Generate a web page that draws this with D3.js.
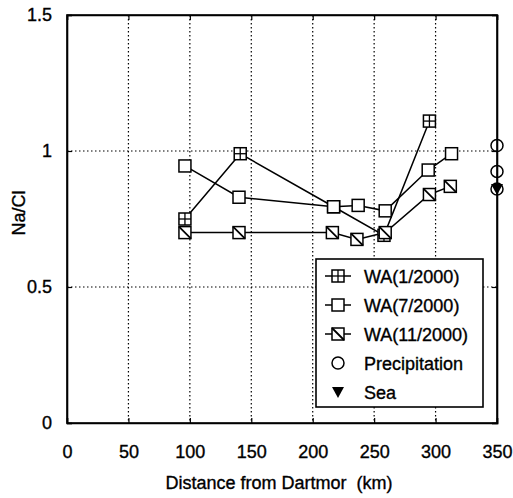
<!DOCTYPE html>
<html>
<head>
<meta charset="utf-8">
<script src="https://cdn.jsdelivr.net/npm/d3@7"></script>
<style>
  body { margin: 0; background: #fff; }
  text { font-family: "Liberation Sans", Arial, sans-serif; fill: #000; stroke: #000; stroke-width: 0.35px; }
</style>
</head>
<body>
<div id="frame"></div>
<script>
'use strict'

// distances (km) and Na/Cl ratios
var distJan = [96, 141, 217, 258, 295]
var ratioJan = [0.75, 0.99, 0.795, 0.69, 1.11]

var distJul = [96, 140, 217, 237, 259, 294, 313]
var ratioJul = [0.945, 0.83, 0.795, 0.80, 0.78, 0.93, 0.99]

var distNov = [96, 140, 216, 236, 259, 295, 312]
var ratioNov = [0.70, 0.70, 0.70, 0.675, 0.70, 0.84, 0.87]

var precipDist = [350, 350, 350]
var precipRatio = [1.02, 0.925, 0.86]

var seaDist = [350]
var seaRatio = [0.86]

var xTicks = [0, 50, 100, 150, 200, 250, 300, 350]
var yTicks = [0, 0.5, 1, 1.5]

var legendLabels = ["WA(1/2000)", "WA(7/2000)", "WA(11/2000)", "Precipitation", "Sea"]

var W = 513, H = 498
var m = { left: 67, right: 497, top: 15, bottom: 423 }
var fs = "18px"

var svg = d3.select("#frame").append("svg")
  .attr("width", W).attr("height", H)

var x = d3.scaleLinear().domain([0, 350]).range([m.left, m.right])
var y = d3.scaleLinear().domain([0, 1.5]).range([m.bottom, m.top])

// grid
var grid = svg.append("g").attr("class", "grid")
grid.selectAll("line.vx")
  .data(xTicks.slice(1, -1))
  .enter().append("line")
  .attr("x1", d => x(d)).attr("x2", d => x(d))
  .attr("y1", m.top).attr("y2", m.bottom)
  .attr("stroke", "#000").attr("stroke-width", 1.2)
  .attr("stroke-dasharray", "1.5,2.5")
grid.selectAll("line.hy")
  .data(yTicks.slice(1, -1))
  .enter().append("line")
  .attr("x1", m.left).attr("x2", m.right)
  .attr("y1", d => y(d)).attr("y2", d => y(d))
  .attr("stroke", "#000").attr("stroke-width", 1.2)
  .attr("stroke-dasharray", "1.5,2.5")

// axes, ticks inward
var tickLen = 5
svg.append("g").attr("transform", "translate(0," + m.bottom + ")")
  .call(d3.axisBottom(x).tickValues(xTicks).tickSize(-tickLen).tickPadding(22))
svg.append("g").attr("transform", "translate(0," + m.top + ")")
  .call(d3.axisTop(x).tickValues(xTicks).tickSize(-tickLen).tickFormat(""))
svg.append("g").attr("transform", "translate(" + m.left + ",0)")
  .call(d3.axisLeft(y).tickValues(yTicks).tickSize(-tickLen).tickPadding(15).tickFormat(d3.format("")))
svg.append("g").attr("transform", "translate(" + m.right + ",0)")
  .call(d3.axisRight(y).tickValues(yTicks).tickSize(-tickLen).tickFormat(""))

svg.selectAll(".domain").attr("stroke", "#000").attr("stroke-width", 1.6)
svg.selectAll(".tick line").attr("stroke", "#000").attr("stroke-width", 1.2)
svg.selectAll(".tick text")
  .style("font-size", fs)
  .style("font-family", "'Liberation Sans', Arial, sans-serif")
  .attr("fill", "#000")

svg.append("rect")
  .attr("x", m.left).attr("y", m.top)
  .attr("width", m.right - m.left).attr("height", m.bottom - m.top)
  .attr("fill", "none").attr("stroke", "#000").attr("stroke-width", 1.6)

// axis titles
svg.append("text")
  .attr("x", 279).attr("y", 489)
  .attr("text-anchor", "middle")
  .style("font-size", fs)
  .style("white-space", "pre")
  .text("Distance from Dartmor  (km)")
svg.append("text")
  .attr("transform", "translate(25,213) rotate(-90)")
  .attr("text-anchor", "middle")
  .style("font-size", fs)
  .text("Na/Cl")

// markers
var S = 12
function drawMarker(g, kind, cx, cy) {
  if (kind === "plus" || kind === "square" || kind === "diag") {
    g.append("rect")
      .attr("x", cx - S / 2).attr("y", cy - S / 2)
      .attr("width", S).attr("height", S)
      .attr("fill", "#fff").attr("stroke", "#000").attr("stroke-width", 1.5)
  }
  if (kind === "plus") {
    g.append("line").attr("x1", cx - S / 2).attr("x2", cx + S / 2)
      .attr("y1", cy).attr("y2", cy).attr("stroke", "#000").attr("stroke-width", 1.3)
    g.append("line").attr("x1", cx).attr("x2", cx)
      .attr("y1", cy - S / 2).attr("y2", cy + S / 2).attr("stroke", "#000").attr("stroke-width", 1.3)
  }
  if (kind === "diag") {
    g.append("line").attr("x1", cx - S / 2).attr("y1", cy - S / 2)
      .attr("x2", cx + S / 2).attr("y2", cy + S / 2)
      .attr("stroke", "#000").attr("stroke-width", 1.8)
  }
  if (kind === "circle") {
    g.append("circle").attr("cx", cx).attr("cy", cy).attr("r", 6)
      .attr("fill", "none").attr("stroke", "#000").attr("stroke-width", 1.5)
  }
  if (kind === "tri") {
    g.append("path")
      .attr("d", "M" + (cx - 6) + "," + (cy - 5) + "L" + (cx + 6) + "," + (cy - 5) + "L" + cx + "," + (cy + 6) + "Z")
      .attr("fill", "#000")
  }
}

var line = d3.line().x(d => x(d[0])).y(d => y(d[1]))

var series = [
  { dist: distJan, ratio: ratioJan, kind: "plus" },
  { dist: distJul, ratio: ratioJul, kind: "square" },
  { dist: distNov, ratio: ratioNov, kind: "diag" }
]

var plot = svg.append("g").attr("class", "plot")
series.forEach(function(s) {
  var pts = d3.zip(s.dist, s.ratio)
  plot.append("path")
    .datum(pts)
    .attr("d", line)
    .attr("fill", "none").attr("stroke", "#000").attr("stroke-width", 1.5)
})
series.forEach(function(s) {
  var g = plot.append("g")
  d3.zip(s.dist, s.ratio).forEach(function(p) {
    drawMarker(g, s.kind, x(p[0]), y(p[1]))
  })
})
d3.zip(precipDist, precipRatio).forEach(function(p) {
  drawMarker(plot, "circle", x(p[0]), y(p[1]))
})
d3.zip(seaDist, seaRatio).forEach(function(p) {
  drawMarker(plot, "tri", x(p[0]), y(p[1]))
})

// legend
var lg = svg.append("g").attr("class", "legend")
lg.append("rect")
  .attr("x", 316).attr("y", 259).attr("width", 167).attr("height", 148)
  .attr("fill", "#fff").attr("stroke", "#000").attr("stroke-width", 1.6)

var legendKinds = ["plus", "square", "diag", "circle", "tri"]
legendLabels.forEach(function(lab, i) {
  var ly = 276 + i * 29
  if (i < 3) {
    lg.append("line").attr("x1", 325).attr("x2", 351)
      .attr("y1", ly).attr("y2", ly).attr("stroke", "#000").attr("stroke-width", 1.5)
  }
  drawMarker(lg, legendKinds[i], 338, ly)
  lg.append("text")
    .attr("x", 364).attr("y", ly + 6.5)
    .style("font-size", fs)
    .text(lab)
})
</script>
</body>
</html>
